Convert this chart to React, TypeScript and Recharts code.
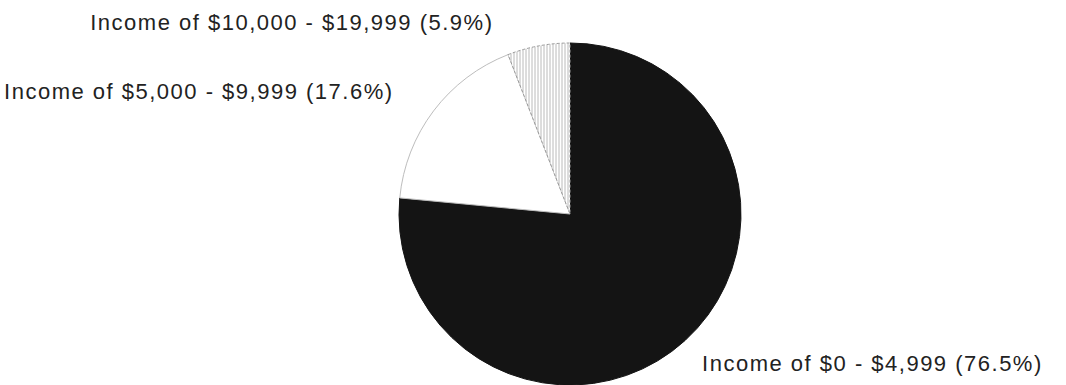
import React from 'react';
import { PieChart, Pie, Cell } from 'recharts';

// income brackets, clockwise from 12 o'clock
const brackets = ['Income of $0 - $4,999', 'Income of $5,000 - $9,999', 'Income of $10,000 - $19,999'];
const shares = [76.5, 17.6, 5.9];

const fills = ['#141414', '#ffffff', 'url(#vhatch)'];
const strokes = ['#141414', '#bdbdbd', '#9a9a9a'];

// label nudges from the slice's outer mid point
const labelNudge = [
  { dx: 17, dy: 31, anchor: 'start' },
  { dx: -40, dy: -12, anchor: 'end' },
  { dx: -45, dy: -16, anchor: 'end' },
];

const data = brackets.map((name, i) => ({ name, value: shares[i] }));

const RADIAN = Math.PI / 180;

const renderLabel = (props: any) => {
  const { cx, cy, midAngle, outerRadius, index } = props;
  const x = cx + outerRadius * Math.cos(-midAngle * RADIAN);
  const y = cy + outerRadius * Math.sin(-midAngle * RADIAN);
  const n = labelNudge[index];
  return (
    <text
      x={x + n.dx}
      y={y + n.dy}
      textAnchor={n.anchor}
      fill="#222"
      fontSize={22}
      letterSpacing={1.5}
      fontFamily="'Liberation Sans', Arial, sans-serif"
    >
      {`${data[index].name} (${shares[index].toFixed(1)}%)`}
    </text>
  );
};

const App: React.FC = () => {
  return (
    <div style={{ position: 'absolute', left: 0, top: 0, background: '#fff' }}>
      <PieChart width={1066} height={385} margin={{ top: 0, right: 0, bottom: 0, left: 0 }}>
        <defs>
          <pattern id="vhatch" width="3" height="4" patternUnits="userSpaceOnUse">
            <rect width="3" height="4" fill="#ffffff" />
            <line x1="1" y1="0" x2="1" y2="4" stroke="#a8a8a8" strokeWidth="0.8" />
          </pattern>
        </defs>
        <Pie
          data={data}
          dataKey="value"
          cx={570}
          cy={214}
          outerRadius={171}
          startAngle={90}
          endAngle={-270}
          label={renderLabel}
          labelLine={false}
          isAnimationActive={false}
        >
          {data.map((entry, index) => (
            <Cell
              key={`cell-${index}`}
              fill={fills[index]}
              stroke={strokes[index]}
              strokeWidth={1}
              strokeDasharray={index === 2 ? '3 2' : undefined}
            />
          ))}
        </Pie>
      </PieChart>
    </div>
  );
};

export default App;
